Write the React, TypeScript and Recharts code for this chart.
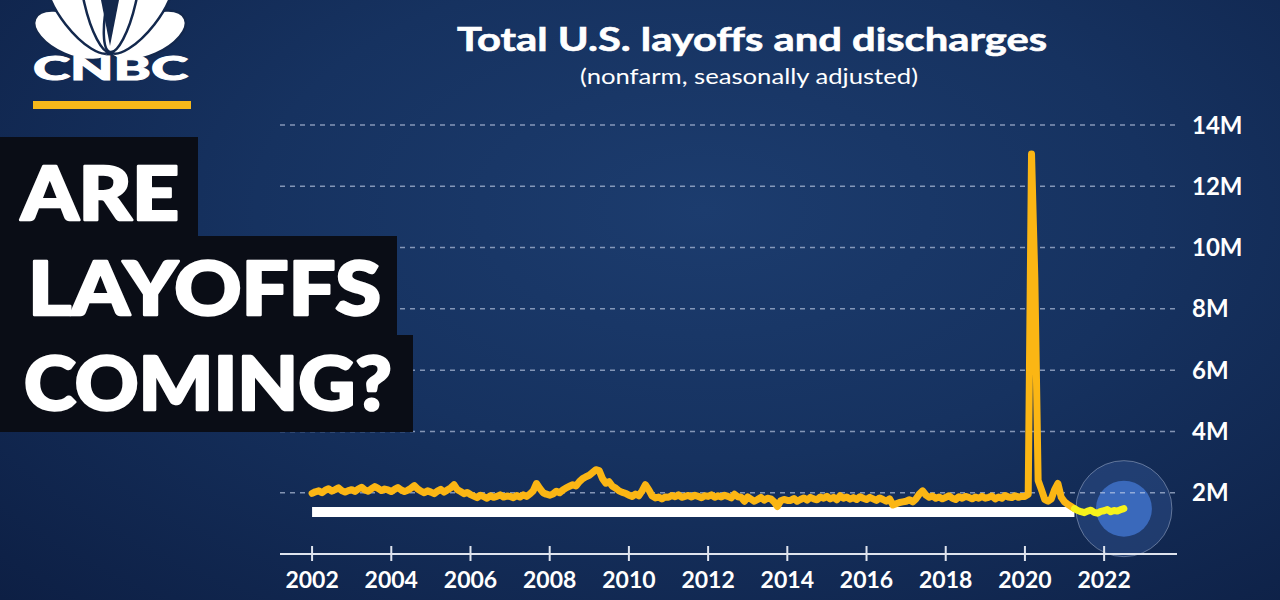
import React from 'react';
import { LineChart, Line, XAxis, YAxis, CartesianGrid } from 'recharts';

// Monthly total U.S. layoffs and discharges, millions, starting Jan 2002
const START_YEAR = 2002;
const layoffs2002to2005 = [
  1.98, 2.03, 2.06, 2.0, 2.08, 2.13, 2.05, 2.1, 2.16, 2.07, 2.02, 2.07,
  2.1, 2.04, 2.12, 2.18, 2.09, 2.05, 2.13, 2.2, 2.14, 2.07, 2.12, 2.09,
  2.04, 2.11, 2.17, 2.09, 2.04, 2.08, 2.15, 2.23, 2.12, 2.05, 2.0, 2.06,
  2.02, 1.97, 2.05, 2.11, 2.02, 2.09, 2.16, 2.26, 2.1, 2.04, 1.97, 2.01,
];
const layoffs2006to2009 = [
  1.94, 1.89, 1.84, 1.92, 1.87, 1.82, 1.9, 1.85, 1.88, 1.93, 1.86, 1.89,
  1.88, 1.84, 1.91, 1.86, 1.93, 1.88, 1.96, 2.06, 2.3, 2.14, 2.0, 1.95,
  1.92, 1.96, 2.05, 2.0, 2.09, 2.16, 2.21, 2.26, 2.22, 2.36, 2.46, 2.52,
  2.57, 2.66, 2.75, 2.72, 2.46, 2.31, 2.36, 2.21, 2.15, 2.06, 2.01, 1.98,
];
const layoffs2010to2013 = [
  1.92, 1.88, 1.96, 1.9, 2.06, 2.26, 2.1, 1.9, 1.83, 1.86, 1.8, 1.86,
  1.85, 1.91, 1.87, 1.93, 1.85, 1.88, 1.91, 1.86, 1.92, 1.88, 1.84, 1.9,
  1.88, 1.93, 1.85, 1.9, 1.86, 1.92, 1.88, 1.83, 1.95, 1.87, 1.85, 1.72,
  1.86, 1.79, 1.72, 1.78, 1.85, 1.76, 1.82, 1.8, 1.7, 1.55, 1.74, 1.78,
];
const layoffs2014to2017 = [
  1.75, 1.75, 1.81, 1.72, 1.78, 1.83, 1.76, 1.85, 1.8, 1.77, 1.86, 1.82,
  1.88, 1.8, 1.85, 1.77, 1.9, 1.82, 1.86, 1.79, 1.84, 1.78, 1.87, 1.82,
  1.78, 1.85, 1.8, 1.75, 1.83, 1.78, 1.72, 1.8, 1.6, 1.64, 1.68, 1.7,
  1.72, 1.77, 1.7, 1.8, 1.96, 2.06, 1.92, 1.85, 1.89, 1.82, 1.86, 1.8,
];
const layoffs2018to2019 = [
  1.85, 1.9, 1.82, 1.78, 1.87, 1.82, 1.88, 1.85, 1.8, 1.86, 1.82, 1.88,
  1.82, 1.85, 1.89, 1.8, 1.86, 1.82, 1.91, 1.86, 1.84, 1.9, 1.85, 1.88,
];
const layoffs2020to2022 = [
  1.88, 1.95, 13.05, 9.0, 2.4, 2.1, 1.78, 1.72, 1.8, 2.1, 2.3, 1.85,
  1.7, 1.62, 1.55, 1.48, 1.42, 1.38, 1.35, 1.4, 1.43, 1.36, 1.33, 1.39,
  1.41, 1.45, 1.38, 1.42, 1.4, 1.45, 1.48,
];
const layoffsMillions = [
  ...layoffs2002to2005,
  ...layoffs2006to2009,
  ...layoffs2010to2013,
  ...layoffs2014to2017,
  ...layoffs2018to2019,
  ...layoffs2020to2022,
];

const xTicks = [2002, 2004, 2006, 2008, 2010, 2012, 2014, 2016, 2018, 2020, 2022];
const yTicks = [2, 4, 6, 8, 10, 12, 14];
const X_DOMAIN: [number, number] = [2001.19, 2023.84];
const Y_DOMAIN: [number, number] = [0, 14];
const HIGHLIGHT_START = 2021.25; // Apr 2021: recent stretch drawn in bright yellow
const CURRENT_LEVEL = 1.37; // white bar: today's level carried back to 2002

const data = layoffsMillions.map((v, i) => {
  const t = START_YEAR + i / 12;
  return {
    t,
    main: t <= HIGHLIGHT_START + 1e-6 ? v : null,
    recent: t >= HIGHLIGHT_START - 1e-6 ? v : null,
    level: i === 0 || Math.abs(t - HIGHLIGHT_START) < 1e-6 ? CURRENT_LEVEL : null,
    marker: i === layoffsMillions.length - 1 ? v : null,
  };
});

const FONT = "Lato, 'Open Sans', sans-serif";
const MARGIN_FULL = { top: 125, right: 0, bottom: 0, left: 280 };
const MARGIN_BARE = { top: 125, right: 103, bottom: 46, left: 280 };

const XTick = (props: any) => {
  const { x, y, payload } = props;
  return (
    <g>
      <line x1={x} x2={x} y1={y - 8} y2={y + 7} stroke="#dfe4ee" strokeWidth={2} />
      <text x={x} y={y + 34} textAnchor="middle" fill="#ffffff" fontSize={23} fontWeight={700} fontFamily={FONT}>
        {payload.value}
      </text>
    </g>
  );
};

const MarkerDot = (props: any) => {
  const { cx, cy, payload, index } = props;
  if (cx == null || cy == null || payload == null || payload.marker == null) {
    return <g key={`m-${index}`} />;
  }
  return (
    <g key={`m-${index}`}>
      <circle cx={cx} cy={cy} r={48} fill="rgba(60,98,165,0.35)" stroke="rgba(205,215,235,0.4)" strokeWidth={1} />
      <circle cx={cx} cy={cy} r={28} fill="#3a69bb" />
    </g>
  );
};

const Feather = ({ angle, len, w }: { angle: number; len: number; w: number }) => {
  const bx = 110;
  const by = 52;
  const rad = (angle * Math.PI) / 180;
  const cx = bx + (Math.sin(rad) * len) / 2;
  const cy = by - (Math.cos(rad) * len) / 2;
  return (
    <ellipse
      cx={cx}
      cy={cy}
      rx={w / 2}
      ry={len / 2}
      transform={`rotate(${angle} ${cx} ${cy})`}
      fill="#ffffff"
      stroke="#13284d"
      strokeWidth={2.5}
    />
  );
};

export default function App() {
  return (
    <div
      style={{
        position: 'absolute',
        left: 0,
        top: 0,
        width: 1280,
        height: 600,
        overflow: 'hidden',
        background: 'radial-gradient(ellipse at 55% 35%, #1c3c6e 0%, #163260 45%, #0d1f44 100%)',
      }}
    >
      {/* bottom layer: highlight circle around the latest reading */}
      <div style={{ position: 'absolute', left: 0, top: 0 }}>
        <LineChart width={1280} height={600} data={data} margin={MARGIN_BARE}>
          <XAxis dataKey="t" type="number" domain={X_DOMAIN} allowDataOverflow hide />
          <YAxis domain={Y_DOMAIN} hide />
          <Line dataKey="marker" stroke="none" dot={MarkerDot} activeDot={false} isAnimationActive={false} />
        </LineChart>
      </div>
      <div style={{ position: 'absolute', left: 0, top: 0 }}>
        <LineChart width={1280} height={600} data={data} margin={MARGIN_FULL}>
          <CartesianGrid vertical={false} stroke="rgba(200,212,235,0.62)" strokeDasharray="5 5" strokeWidth={1.5} />
          <XAxis
            dataKey="t"
            type="number"
            domain={X_DOMAIN}
            allowDataOverflow
            ticks={xTicks}
            tick={<XTick />}
            tickLine={false}
            tickSize={0}
            tickMargin={0}
            height={46}
            axisLine={{ stroke: '#dfe4ee', strokeWidth: 2 }}
            interval={0}
          />
          <YAxis
            orientation="right"
            domain={Y_DOMAIN}
            ticks={yTicks}
            width={103}
            axisLine={false}
            tickLine={false}
            tickSize={0}
            tickMargin={15}
            tickFormatter={(v: number) => `${v}M`}
            tick={{ fill: '#ffffff', fontSize: 24, fontWeight: 700, fontFamily: FONT, textAnchor: 'start' }}
          />
          <Line
            dataKey="level"
            connectNulls
            stroke="#ffffff"
            strokeWidth={10}
            strokeLinecap="butt"
            dot={false}
            activeDot={false}
            isAnimationActive={false}
          />
          <Line
            dataKey="main"
            stroke="#fbb614"
            strokeWidth={7}
            strokeLinejoin="round"
            strokeLinecap="round"
            dot={false}
            activeDot={false}
            isAnimationActive={false}
          />
          <Line
            dataKey="recent"
            stroke="#f6f21c"
            strokeWidth={7}
            strokeLinejoin="round"
            strokeLinecap="round"
            dot={false}
            activeDot={false}
            isAnimationActive={false}
          />
        </LineChart>
      </div>
      <svg
        width={1280}
        height={600}
        style={{ position: 'absolute', left: 0, top: 0, pointerEvents: 'none' }}
        fontFamily={FONT}
      >
        {/* Title */}
        <text x={752} y={51} textAnchor="middle" fill="#ffffff" stroke="#ffffff" strokeWidth={0.6} fontSize={32} fontWeight={700} textLength={590} lengthAdjust="spacingAndGlyphs">
          Total U.S. layoffs and discharges
        </text>
        <text x={749} y={84} textAnchor="middle" fill="#ffffff" fontSize={21} fontWeight={400} textLength={338} lengthAdjust="spacingAndGlyphs">
          (nonfarm, seasonally adjusted)
        </text>

        {/* CNBC logo */}
        <Feather angle={-66} len={82} w={40} />
        <Feather angle={66} len={82} w={40} />
        <Feather angle={-38} len={98} w={36} />
        <Feather angle={38} len={98} w={36} />
        <Feather angle={-13} len={106} w={28} />
        <Feather angle={13} len={106} w={28} />
        <polygon points="101,0 119,0 110,46" fill="#13284d" />
        <text x={33} y={80} fill="#ffffff" stroke="#ffffff" strokeWidth={1} fontSize={33} fontWeight={900} textLength={155} lengthAdjust="spacingAndGlyphs">
          CNBC
        </text>
        <rect x={33} y={101} width={158} height={8} fill="#f6b81a" />

        {/* Headline blocks */}
        <rect x={0} y={137} width={198} height={100} fill="#0a0d16" />
        <rect x={0} y={236} width={397} height={100} fill="#0a0d16" />
        <rect x={0} y={335} width={413} height={97} fill="#0a0d16" />
        <g fill="#ffffff" stroke="#ffffff" strokeWidth={2.5} strokeLinejoin="round" fontSize={74} fontWeight={900}>
          <text x={21} y={220} textLength={158} lengthAdjust="spacingAndGlyphs">
            ARE
          </text>
          <text x={28} y={315} textLength={353} lengthAdjust="spacingAndGlyphs">
            LAYOFFS
          </text>
          <text x={24} y={410} textLength={368} lengthAdjust="spacingAndGlyphs">
            COMING?
          </text>
        </g>
      </svg>
    </div>
  );
}
